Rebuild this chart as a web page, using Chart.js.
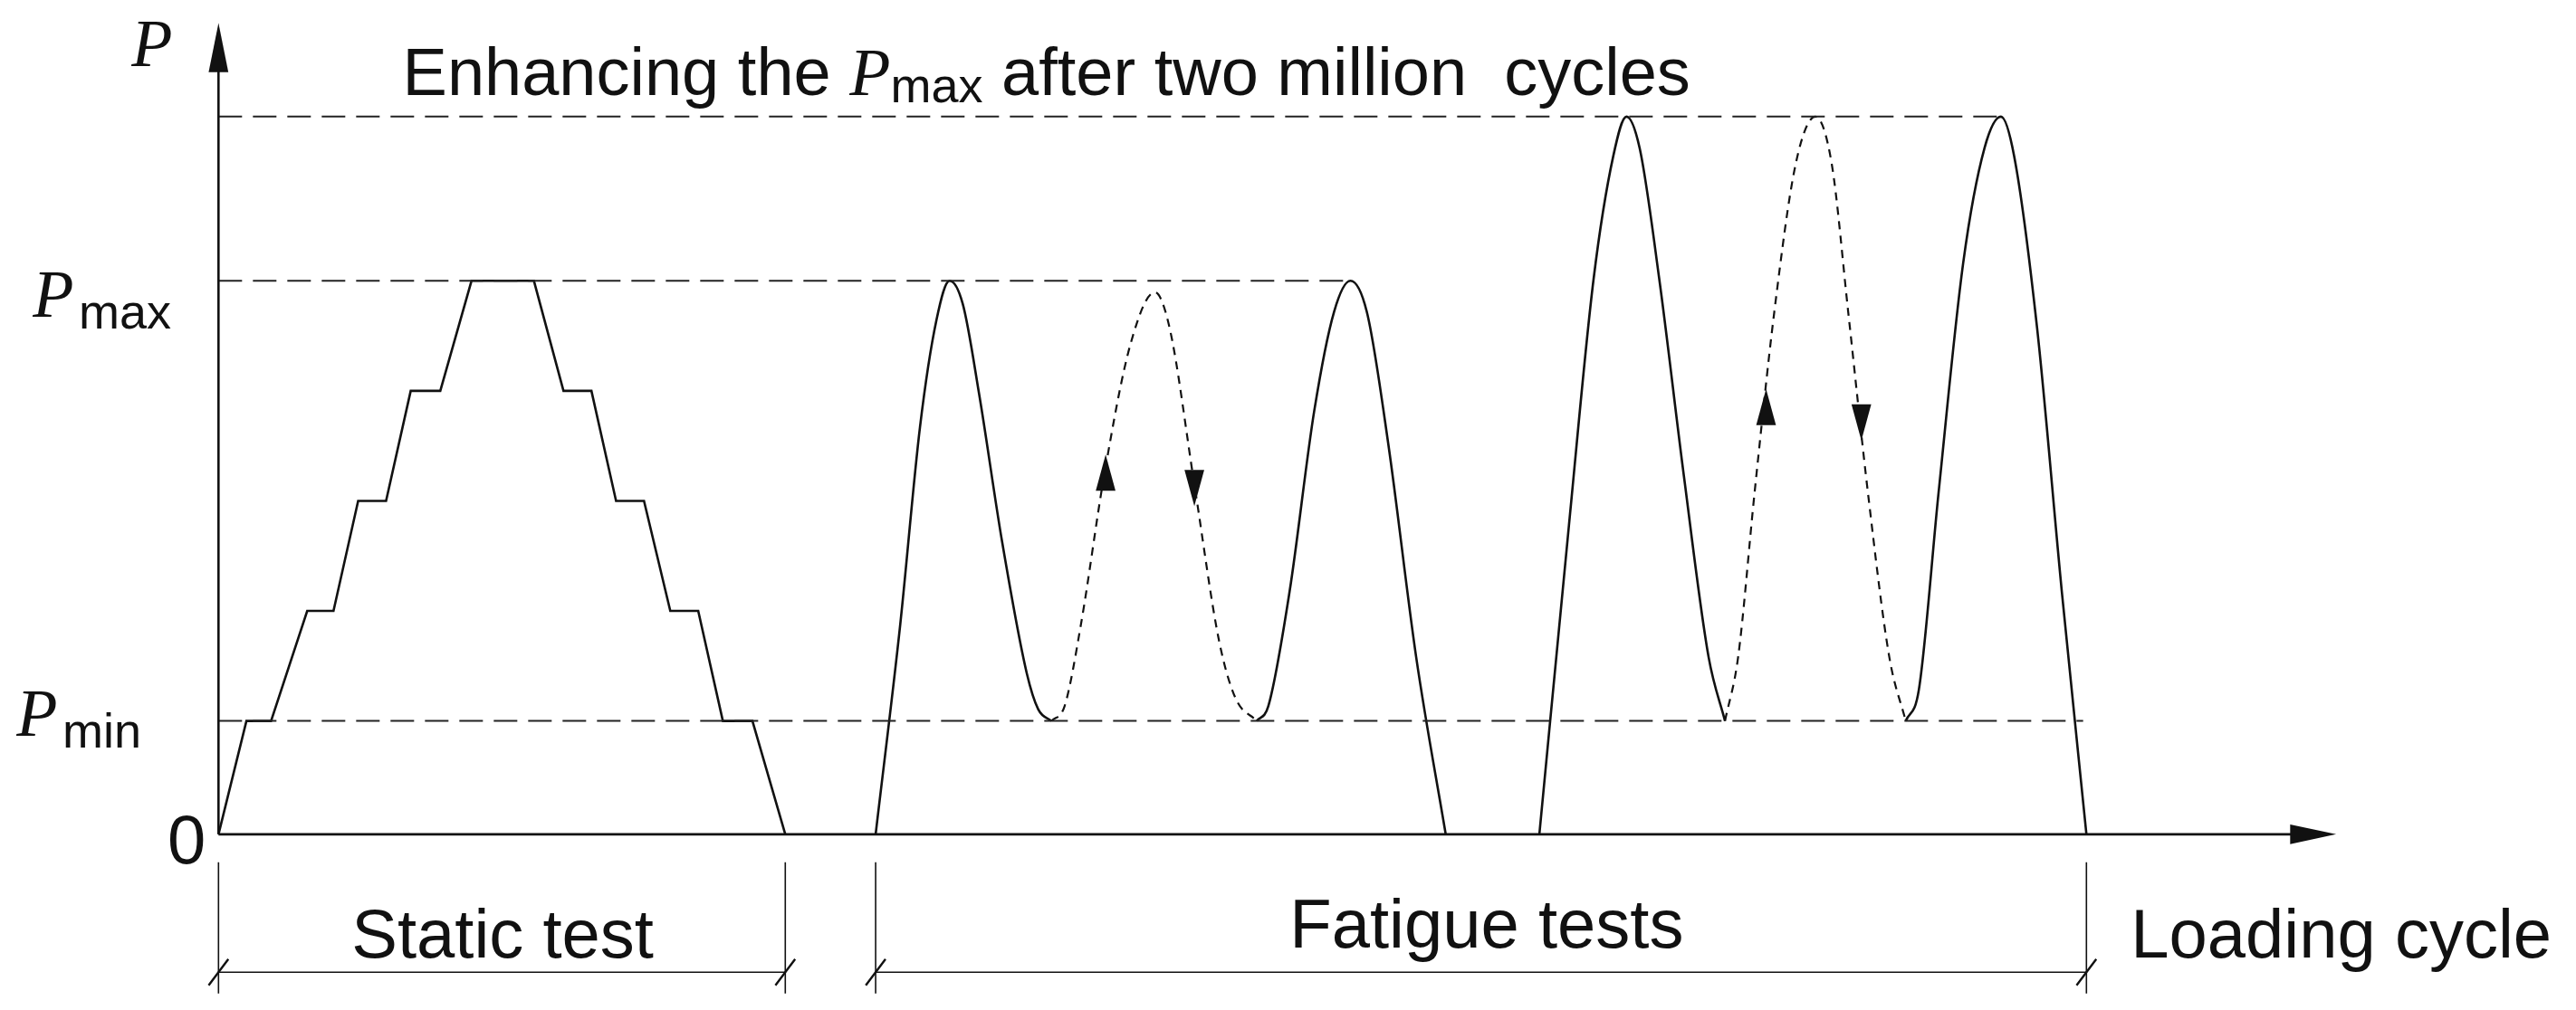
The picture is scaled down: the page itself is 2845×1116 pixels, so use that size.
<!DOCTYPE html>
<html>
<head>
<meta charset="utf-8">
<script src="https://cdn.jsdelivr.net/npm/chart.js@4.4.1/dist/chart.umd.min.js"></script>
<style>
  html, body { margin: 0; padding: 0; background: #fff; }
  #wrap { width: 2845px; height: 1116px; }
</style>
</head>
<body>
<div id="wrap"><canvas id="c"></canvas></div>
<script>
// diagram units: x along loading cycle, y = load height above the axis
const staticX = [133,150,165,187,203,218,235,250,268,287,325,343,360,375,392,408,425,440,458,478];
const staticY = [0,69,69,136,136,203,203,270,270,337,337,270,270,203,203,136,136,69,69,0];

const fat1aX = [533,548,560,570,578,586,596,610,625,632,640];
const fat1aY = [0,128,248,313,337,323,268,178,98,76,69];
const fat1dX = [640,648,658,672,688,703,712,727,742,752,765];
const fat1dY = [69,78,128,218,298,330,308,213,118,83,69];
const fat1bX = [765,772,785,800,812,822,832,845,862,880];
const fat1bY = [69,78,148,258,318,337,318,238,108,0];

const fat2aX = [937,955,970,982,990,998,1010,1025,1040,1050];
const fat2aY = [0,188,338,413,437,418,338,218,108,69];
const fat2dX = [1050,1058,1068,1080,1093,1105,1115,1125,1137,1150,1160];
const fat2dY = [69,108,208,318,408,437,408,318,208,108,69];
const fat2bX = [1160,1168,1180,1195,1208,1218,1226,1240,1255,1270];
const fat2bY = [69,88,208,348,418,437,413,308,148,0];

const P_MIN = 69, P_MAX = 337, P_ENH = 437;
const guideMin = [[133, P_MIN], [1268, P_MIN]];
const guideMax = [[133, P_MAX], [822, P_MAX]];
const guideEnh = [[133, P_ENH], [1218, P_ENH]];

// direction arrows on the dotted cycles: [x, y, +1 up / -1 down]
const arrows = [[673,218,1],[727,213,-1],[1075,258,1],[1133,253,-1]];

const S = 2845 / 1568;
const zip = (xs, ys) => xs.map((x, i) => ({x, y: ys[i]}));
const pts = a => a.map(p => ({x: p[0], y: p[1]}));

function solid(data, smooth) {
  return { data, borderColor: '#111', borderWidth: 2.6, pointRadius: 0,
    tension: smooth ? 0.4 : 0, cubicInterpolationMode: smooth ? 'monotone' : 'default' };
}
function dotted(data) {
  return Object.assign(solid(data, true), { borderDash: [9, 7], borderWidth: 2.2 });
}
function guide(data) {
  return { data, borderColor: '#222', borderWidth: 2, pointRadius: 0, borderDash: [26, 12] };
}

const decor = {
  id: 'decor',
  afterDatasetsDraw(chart) {
    const ctx = chart.ctx, xs = chart.scales.x, ys = chart.scales.y;
    const X = v => xs.getPixelForValue(v), Y = v => ys.getPixelForValue(v);
    ctx.save();
    ctx.strokeStyle = '#111'; ctx.fillStyle = '#111'; ctx.lineWidth = 2.6;
    // axes
    ctx.beginPath();
    ctx.moveTo(X(133), Y(0)); ctx.lineTo(X(1400), Y(0));
    ctx.moveTo(X(133), Y(0)); ctx.lineTo(X(133), Y(470));
    ctx.stroke();
    ctx.beginPath();
    ctx.moveTo(X(1422), Y(0)); ctx.lineTo(X(1394), Y(6)); ctx.lineTo(X(1394), Y(-6)); ctx.closePath(); ctx.fill();
    ctx.beginPath();
    ctx.moveTo(X(133), Y(494)); ctx.lineTo(X(127), Y(464)); ctx.lineTo(X(139), Y(464)); ctx.closePath(); ctx.fill();
    // flow arrows
    arrows.forEach(([ax, ay, d]) => {
      const x = X(ax), y = Y(ay), L = 22 * S, W = 6 * S;
      ctx.beginPath();
      ctx.moveTo(x, y - d * L * 0.6); ctx.lineTo(x - W, y + d * L * 0.4); ctx.lineTo(x + W, y + d * L * 0.4); ctx.closePath(); ctx.fill();
    });
    // brackets
    ctx.lineWidth = 1.6;
    ctx.beginPath();
    [133, 478, 533, 1270].forEach(v => { ctx.moveTo(X(v), Y(-17)); ctx.lineTo(X(v), Y(-97)); });
    ctx.moveTo(X(133), Y(-84)); ctx.lineTo(X(478), Y(-84));
    ctx.moveTo(X(533), Y(-84)); ctx.lineTo(X(1270), Y(-84));
    ctx.stroke();
    ctx.lineWidth = 2.4;
    ctx.beginPath();
    [133, 478, 533, 1270].forEach(v => { ctx.moveTo(X(v - 6), Y(-92)); ctx.lineTo(X(v + 6), Y(-76)); });
    ctx.stroke();
    // text
    const sans = '"Liberation Sans Narrow", "Arial Narrow", "Liberation Sans", sans-serif';
    const serifI = 'italic 74px "Liberation Serif", serif';
    ctx.textBaseline = 'alphabetic';
    ctx.font = '76px ' + sans;
    ctx.fillText('Static test', X(214), Y(-75));
    ctx.fillText('Fatigue tests', X(785), Y(-69));
    ctx.fillText('Loading cycle', X(1297), Y(-75));
    ctx.fillText('0', X(102), Y(-18));
    ctx.font = serifI; ctx.fillText('P', X(80), Y(468));
    // title with P_max
    let tx = X(245); const ty = Y(450);
    ctx.font = '74px ' + sans; ctx.fillText('Enhancing the ', tx, ty); tx += ctx.measureText('Enhancing the ').width;
    ctx.font = serifI; ctx.fillText('P', tx, ty); tx += ctx.measureText('P').width;
    ctx.font = '54px ' + sans; ctx.fillText('max', tx, ty + 8); tx += ctx.measureText('max').width;
    ctx.font = '74px ' + sans; ctx.fillText(' after two million  cycles', tx, ty);
    // P labels
    ctx.font = serifI; ctx.fillText('P', X(20), Y(315));
    ctx.font = '54px ' + sans; ctx.fillText('max', X(48), Y(308));
    ctx.font = serifI; ctx.fillText('P', X(10), Y(60));
    ctx.font = '54px ' + sans; ctx.fillText('min', X(38), Y(53));
    ctx.restore();
  }
};

new Chart(document.getElementById('c'), {
  type: 'line',
  data: { datasets: [
    guide(pts(guideMin)), guide(pts(guideMax)), guide(pts(guideEnh)),
    solid(zip(staticX, staticY), false),
    solid(zip(fat1aX, fat1aY), true), dotted(zip(fat1dX, fat1dY)), solid(zip(fat1bX, fat1bY), true),
    solid(zip(fat2aX, fat2aY), true), dotted(zip(fat2dX, fat2dY)), solid(zip(fat2bX, fat2bY), true)
  ]},
  options: {
    responsive: true, maintainAspectRatio: false, animation: false,
    layout: { padding: 0 },
    plugins: { legend: { display: false }, tooltip: { enabled: false } },
    scales: {
      x: { type: 'linear', min: 0, max: 1568, display: false },
      y: { type: 'linear', min: -107, max: 508, display: false }
    }
  },
  plugins: [decor]
});
</script>
</body>
</html>
